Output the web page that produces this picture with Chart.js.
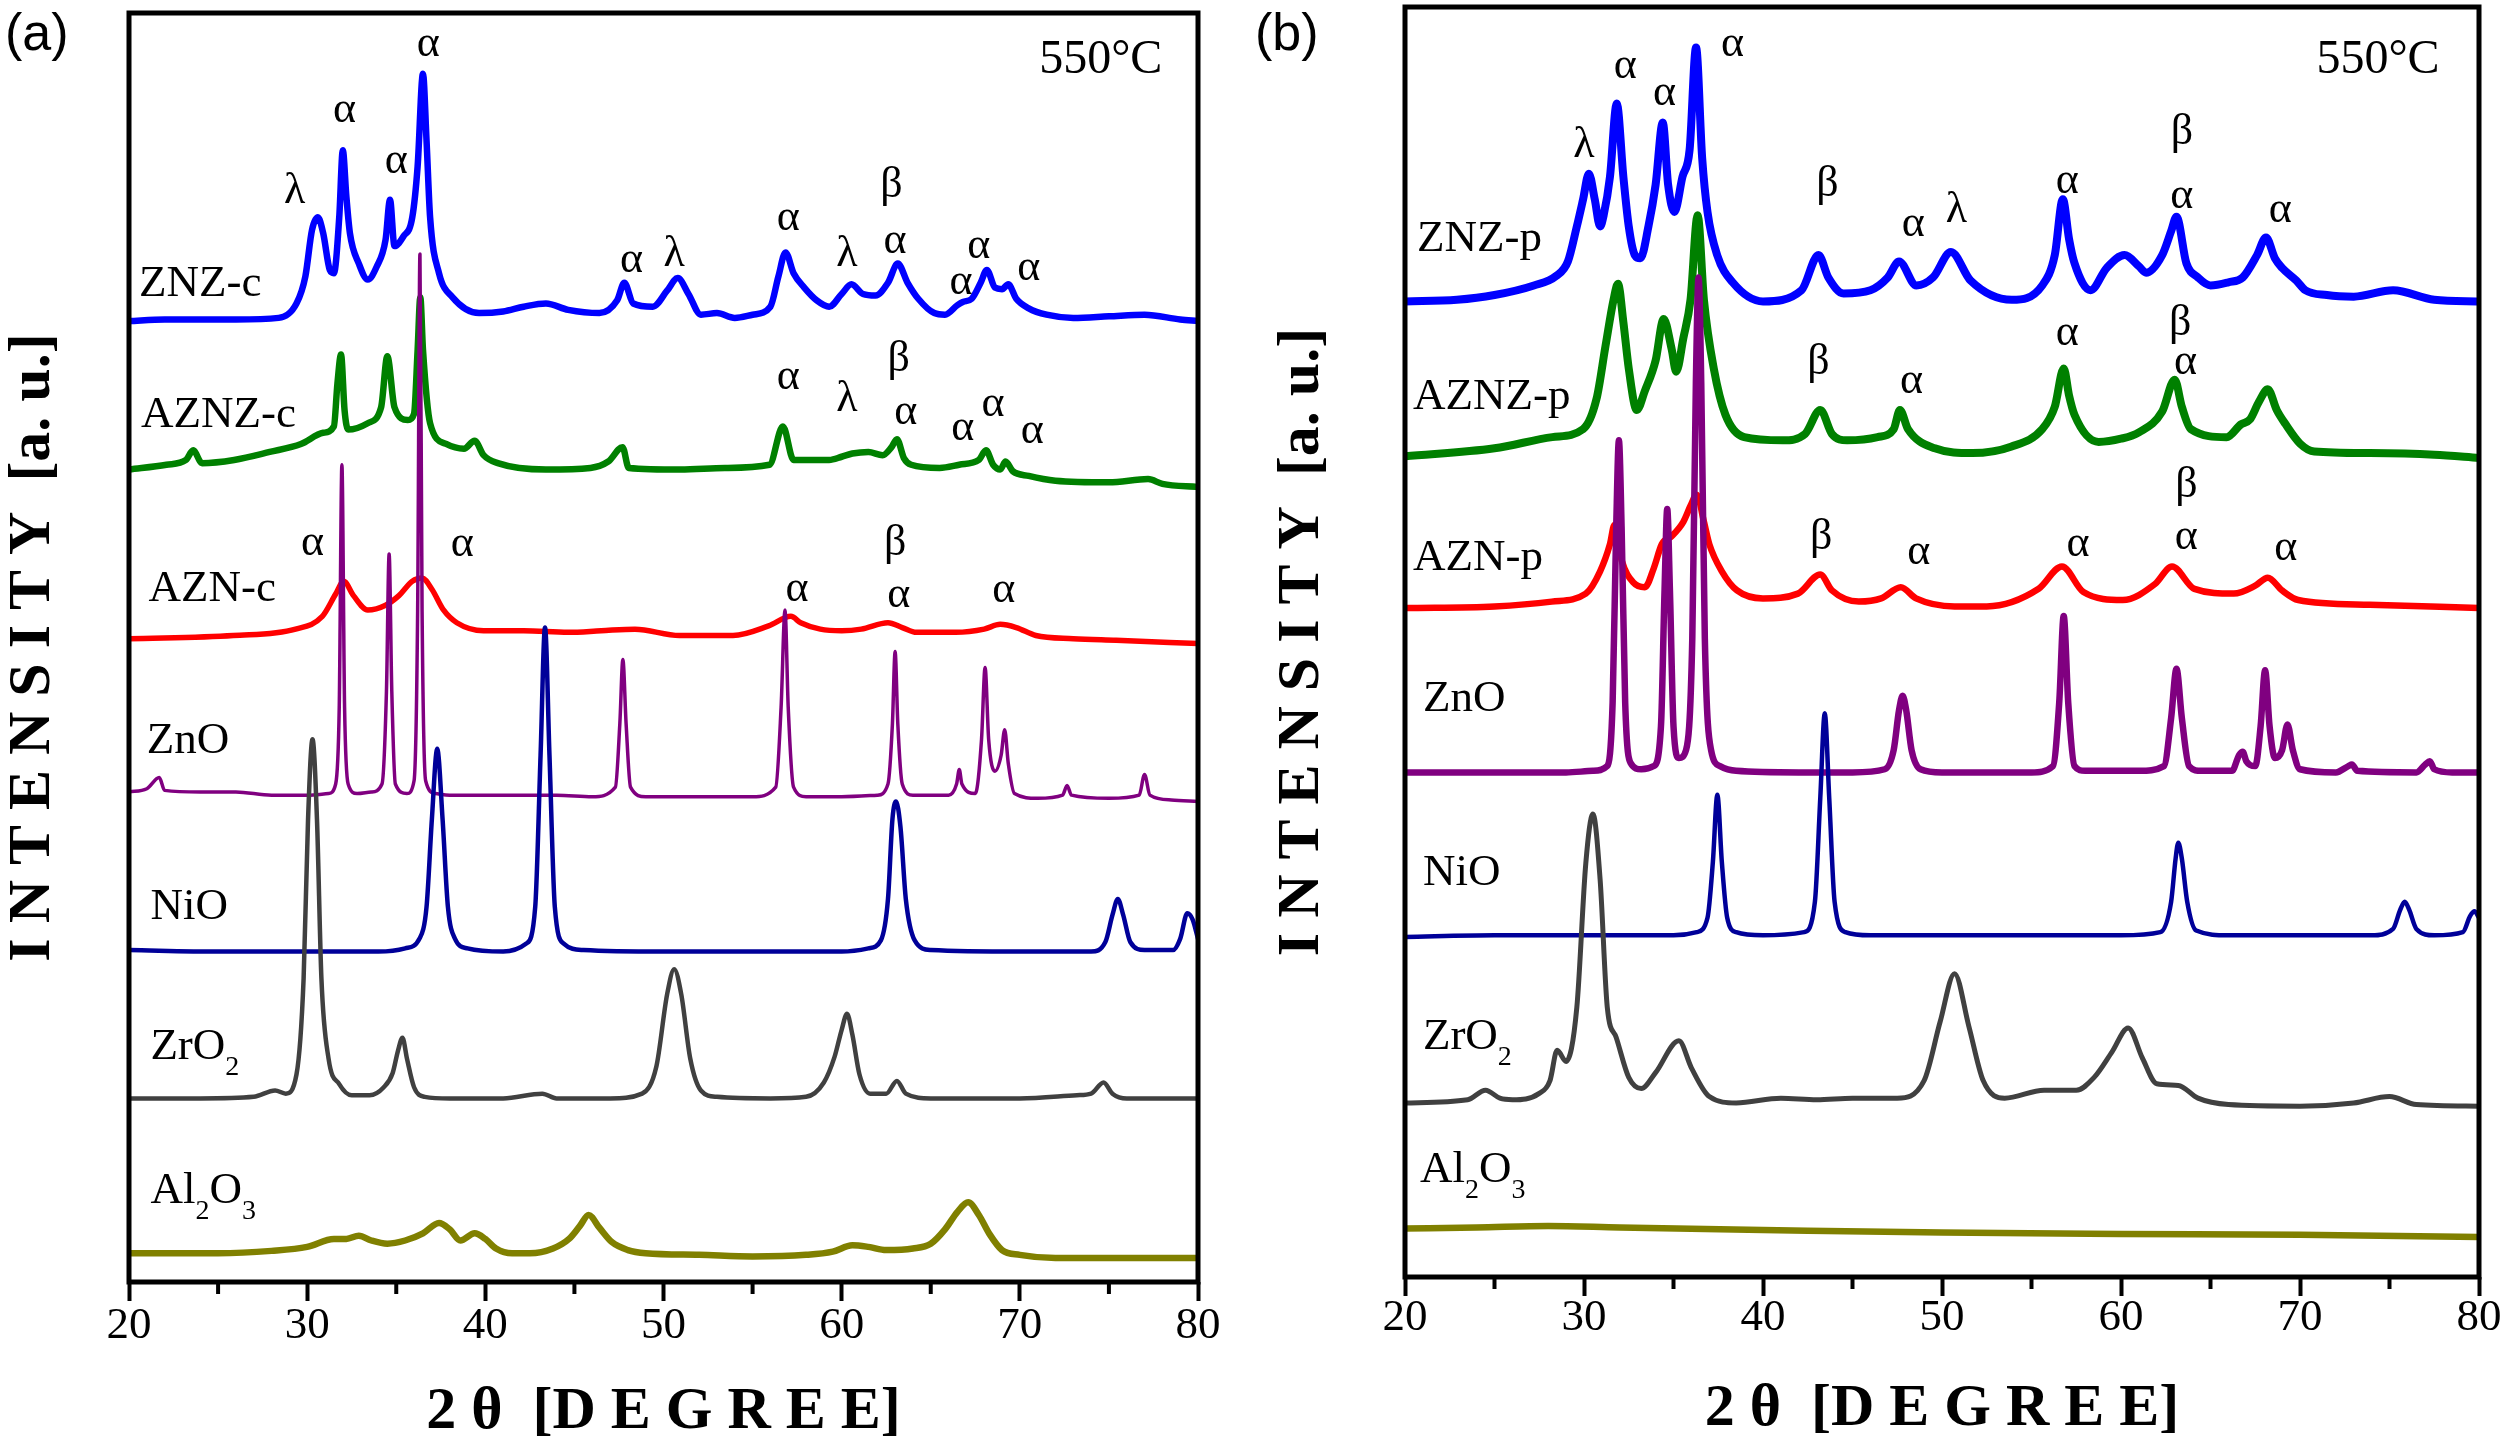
<!DOCTYPE html>
<html>
<head>
<meta charset="utf-8">
<script src="https://cdn.jsdelivr.net/npm/chart.js@4.4.1/dist/chart.umd.min.js"></script>
<style>
  html, body { margin: 0; padding: 0; background: #fff; }
  #wrap { position: relative; width: 2504px; height: 1449px; overflow: hidden; }
  canvas { position: absolute; top: 0; }
  #chartA { left: 0; }
  #chartB { left: 1250px; }
</style>
</head>
<body>
<div id="wrap">
  <canvas id="chartA" width="1250" height="1449"></canvas>
  <canvas id="chartB" width="1254" height="1449"></canvas>
</div>
<script>
// 2theta (deg) vs stacked intensity (a.u.)

// ---- panel (a) : calcined ----
const znzC = [[20,602],[22,603],[24,603],[26,603],[28.4,604],[29.4,613],[29.9,630],[30.27,659],[30.6,667],[30.9,657],[31.27,634],[31.5,632],[31.8,667],[32.0,709],[32.2,680],[32.4,657],[32.9,638],[33.4,628],[33.9,636],[34.4,653],[34.65,678],[34.9,649],[35.4,655],[35.9,667],[36.2,699],[36.5,757],[36.7,715],[36.9,667],[37.4,632],[38.15,617],[39.65,607],[41,608],[42.15,611],[43.4,613],[44.65,609],[46.4,607],[47.4,615],[47.8,626],[48.3,613],[49.4,611],[50.2,621],[50.8,629],[51.4,619],[52.1,606],[53,607],[54,604],[55,606],[56.0,611],[56.45,630],[56.85,645],[57.3,632],[57.9,623],[58.6,615],[59.3,611],[60.0,619],[60.55,625],[61.2,619],[61.9,618],[62.6,626],[63.15,638],[63.7,626],[64.3,616],[65.2,607],[65.8,606],[66.5,612],[66.8,614],[67.3,616],[67.8,626],[68.15,634],[68.6,623],[69.0,622],[69.35,625],[69.8,616],[70.5,610],[71.5,606],[73,604],[75,605],[77,606],[79,603],[80,602]];
const aznzC = [[20,509],[22.1,512],[23.2,515],[23.6,521],[24.1,513],[25.9,515],[27.9,520],[29.65,525],[30.9,532],[31.5,536],[31.7,563],[31.9,581],[32.1,546],[32.3,534],[33.4,538],[34.15,548],[34.5,580],[34.9,548],[35.65,540],[36.0,544],[36.2,584],[36.35,617],[36.5,584],[36.9,538],[37.8,525],[38.8,522],[39.4,527],[39.9,518],[40.7,513],[43.4,509],[45.9,510],[46.9,514],[47.7,523],[48.05,510],[50.95,509],[53.45,510],[55.95,512],[56.7,536],[57.3,515],[59.3,515],[60.0,517],[60.6,519],[61.5,520],[62.3,518],[62.8,523],[63.1,528],[63.5,516],[63.9,512],[65.5,510],[66.6,512],[67.7,515],[68.1,521],[68.5,512],[68.9,509],[69.2,514],[69.6,508],[70.5,505],[72,502],[75,501],[77.2,503],[78,500],[80,498]];
const aznC = [[20,403],[25.85,405],[29.35,409],[30.85,417],[31.6,431],[32.05,439],[32.6,430],[33.4,421],[34.4,424],[35.15,430],[35.9,439],[36.45,441],[37.0,434],[37.65,421],[38.4,413],[39.9,408],[42.15,408],[44.65,407],[46.5,408],[48.4,409],[50.9,405],[53.9,405],[55.9,411],[57.15,417],[57.7,413],[58.8,409],[60,408],[61.1,409],[62.6,413],[63.4,410],[64.2,407],[66.4,407],[68,409],[68.9,412],[69.8,410],[70.9,405],[73,403],[75.4,402],[80,400]];
const znoA = [[20,307],[21.0,309],[21.7,316],[22.0,308],[24,307],[26,307],[28,305],[30,305],[31.2,306],[31.6,312],[31.8,360],[31.95,512],[32.1,360],[32.3,312],[32.8,306],[33.6,307],[34.2,312],[34.45,370],[34.6,456],[34.75,370],[34.95,312],[35.6,306],[36.0,314],[36.2,420],[36.33,644],[36.45,420],[36.65,314],[37.2,306],[38,305],[40,305],[42,305],[44,305],[46,304],[47.3,310],[47.55,350],[47.72,390],[47.9,350],[48.15,310],[49,304],[52,304],[55,304],[56.3,310],[56.6,360],[56.82,421],[57.0,360],[57.3,310],[58,304],[60,304],[62,305],[62.6,312],[62.85,350],[63.0,395],[63.15,350],[63.4,312],[64,305],[66,305],[66.45,312],[66.6,321],[66.75,312],[67.5,306],[67.85,340],[68.05,385],[68.25,340],[68.6,320],[68.95,330],[69.15,346],[69.35,325],[69.7,306],[71,303],[72.4,305],[72.65,311],[72.9,305],[75,303],[76.7,305],[77.0,318],[77.3,305],[78.5,302],[80,301]];
const nioA = [[20,208],[25,207],[30,207],[34,207],[35.5,209],[36.3,215],[36.7,235],[37.0,290],[37.3,334],[37.6,290],[37.9,235],[38.3,215],[39,209],[41,207],[42.3,212],[42.8,235],[43.1,330],[43.35,410],[43.6,330],[43.9,235],[44.4,212],[45.5,208],[50,207],[55,207],[60,207],[61.5,209],[62.2,214],[62.6,240],[62.85,290],[63.05,301],[63.3,285],[63.6,240],[64.1,214],[65,208],[70,207],[74,207],[74.8,213],[75.2,230],[75.5,240],[75.8,230],[76.2,213],[77,208],[78.6,208],[79.0,215],[79.4,231],[79.7,227],[80,215]];
const zro2A = [[20,115],[24,115],[27,116],[28.2,120],[28.8,118],[29.4,130],[29.8,190],[30.05,290],[30.3,340],[30.55,290],[30.8,190],[31.2,140],[31.8,124],[32.5,117],[33.5,117],[34.3,122],[34.8,131],[35.1,145],[35.35,153],[35.6,140],[36.0,122],[36.6,116],[38,115],[41,115],[43.2,118],[44,115],[47,115],[48.8,118],[49.6,135],[50.2,180],[50.6,196],[51.0,180],[51.5,140],[52.1,120],[53,116],[56,115],[58,116],[59.0,125],[59.6,141],[60.0,158],[60.3,168],[60.6,155],[61.0,130],[61.6,118],[62.5,118],[63.1,126],[63.6,118],[65,115],[70,115],[73.2,117],[74.0,118],[74.7,125],[75.2,118],[76,115],[80,115]];
const al2o3A = [[20,18],[25,18],[28,19.5],[30,22],[31.5,27],[32.2,27],[32.9,29],[33.6,26],[34.5,24],[35.5,26],[36.5,30.5],[37.4,37],[38.0,33],[38.6,26],[39.4,30.5],[40.0,27],[40.6,21],[41.5,18],[42.5,18],[43.8,21],[44.7,27],[45.3,35],[45.8,42],[46.4,34],[47.1,25],[48.0,20],[49,18],[52,17],[55,16],[58,17],[59.5,19],[60.6,23],[61.5,22],[62.5,20],[64,21],[65,24],[65.8,33],[66.5,44],[67.1,50],[67.7,42],[68.3,30],[69,20],[70,17],[72,15],[76,15],[80,15]];

// ---- panel (b) : prepared ----
const znzP = [[20,611],[22.9,612],[25.0,615],[27.2,621],[28.45,627],[29.1,636],[29.6,658],[29.95,675],[30.27,691],[30.6,675],[30.9,658],[31.1,665],[31.45,689],[31.83,735],[32.2,689],[32.5,658],[32.84,640],[33.15,638],[33.6,658],[34.0,684],[34.4,723],[34.7,684],[35.05,667],[35.5,689],[35.9,706],[36.26,770],[36.6,701],[36.9,667],[37.44,640],[38.3,623],[40.0,611],[42.15,618],[43.1,640],[43.65,626],[44.5,616],[46.0,618],[46.97,626],[47.6,636],[48.57,621],[49.5,626],[50.5,642],[51.6,624],[53.9,612],[55.6,621],[56.3,640],[56.75,675],[57.1,650],[57.4,635],[58.3,618],[59.2,632],[60.2,640],[61.0,633],[61.4,629],[62.3,640],[62.8,655],[63.1,664],[63.65,635],[64.3,626],[65.0,621],[66.0,623],[66.8,626],[67.6,640],[68.1,651],[68.6,638],[69.0,632],[69.8,624],[70.3,618],[71.5,615],[73.0,614],[75.2,618],[77.5,612],[80,611]];
const aznzP = [[20,514],[25.0,519],[28.23,526],[29.95,531],[30.7,550],[31.2,583],[31.65,612],[31.9,622],[32.2,598],[32.5,569],[32.95,543],[33.4,555],[34.0,574],[34.45,600],[34.9,581],[35.15,567],[35.55,588],[35.95,612],[36.35,665],[36.7,612],[37.25,569],[37.9,540],[38.95,526],[41.1,524],[42.35,528],[43.2,543],[43.85,528],[44.7,524],[46.4,526],[47.3,531],[47.65,543],[48.1,531],[49.6,519],[51.7,516],[53.85,520],[55.6,531],[56.3,545],[56.8,569],[57.1,552],[57.4,540],[58.75,523],[60,525],[61.0,529],[62.3,542],[63.0,562],[63.4,545],[63.9,531],[65.9,526],[66.7,534],[67.2,537],[67.7,548],[68.2,556],[68.7,543],[69.2,534],[70.0,522],[70.8,517],[73.9,516],[77.5,515],[80,513]];
const aznP = [[20,419],[25.0,420],[28.2,423],[30.1,428],[30.9,442],[31.45,459],[31.7,471],[32.1,449],[32.75,435],[33.4,432],[33.9,444],[34.35,459],[34.9,464],[35.55,473],[35.95,483],[36.3,490],[36.7,473],[37.0,459],[37.7,442],[38.55,430],[40.0,425],[41.95,428],[43.2,440],[43.85,430],[45.35,423],[46.6,425],[47.7,432],[48.55,425],[50.7,420],[52.5,420],[55.4,431],[56.7,445],[57.9,429],[60.1,424],[61.9,434],[62.85,445],[64.1,431],[66.3,428],[67.5,433],[68.2,438],[69.0,430],[69.9,424],[73.9,421],[80,419]];
const znoB = [[20,316],[25,316],[29,316],[30.5,317],[31.3,320],[31.6,360],[31.8,470],[31.95,524],[32.1,470],[32.3,360],[32.6,322],[33.2,318],[33.9,320],[34.3,345],[34.5,430],[34.65,481],[34.8,430],[35.0,345],[35.3,325],[35.7,330],[36.05,400],[36.25,560],[36.4,626],[36.55,560],[36.75,400],[37.1,330],[37.6,320],[38.5,317],[42,316],[45,316],[46.8,318],[47.3,330],[47.6,355],[47.8,364],[48.0,355],[48.3,330],[48.8,318],[50,316],[55,316],[56.2,320],[56.55,360],[56.8,414],[57.05,360],[57.4,320],[58,317],[61,317],[62.4,320],[62.8,350],[63.1,381],[63.4,350],[63.8,320],[64.5,317],[66.2,317],[66.6,327],[66.8,329],[67.0,323],[67.5,320],[67.8,345],[68.05,380],[68.3,345],[68.6,325],[69.0,330],[69.3,346],[69.6,330],[70.0,318],[72,316],[72.7,320],[72.9,321],[73.2,317],[76.5,316],[77.0,321],[77.25,323],[77.5,318],[78.5,316],[80,316]];
const nioB = [[20,213],[25,214],[30,214],[35,214],[36.3,216],[36.9,225],[37.2,260],[37.45,302],[37.7,260],[38.0,225],[38.5,216],[40,214],[42.3,216],[42.9,235],[43.2,300],[43.45,353],[43.7,300],[44.0,235],[44.6,216],[46,214],[50,214],[55,214],[60,214],[62.2,216],[62.8,235],[63.05,262],[63.2,272],[63.4,262],[63.7,235],[64.2,217],[66,214],[70,214],[74,214],[75.2,218],[75.6,230],[75.85,235],[76.1,230],[76.5,218],[77.5,214],[79.1,216],[79.5,226],[79.75,229],[80,225]];
const zro2B = [[20,109],[23.5,111],[24.5,117],[25.3,112],[26,111],[27.5,115],[28.1,123],[28.5,142],[29.0,135],[29.6,169],[30.1,259],[30.5,290],[30.9,249],[31.3,169],[31.8,150],[32.5,125],[33.2,118],[34.0,128],[35.3,148],[36.0,131],[37.0,113],[38.5,109],[41,112],[43,111],[45,112],[47.5,112],[49.0,123],[49.9,160],[50.7,190],[51.5,157],[52.3,123],[53.5,112],[55.7,117],[57.5,117],[58.5,125],[59.5,141],[60.4,156],[61.2,137],[62.0,121],[63.2,120],[64.3,112],[66,108],[70,107],[73,109],[75,113],[76.5,108],[80,107]];
const al2o3B = [[20,30.4],[24,31],[28,32],[32,31],[40,29.5],[50,27.8],[60,27],[70,26.5],[80,25]];

// sample names, top to bottom ('_' = subscript)
const namesA = ['ZNZ-c', 'AZNZ-c', 'AZN-c', 'ZnO', 'NiO', 'ZrO_2', 'Al_2O_3'];
const namesB = ['ZNZ-p', 'AZNZ-p', 'AZN-p', 'ZnO', 'NiO', 'ZrO_2', 'Al_2O_3'];
const nameAtA = [[20.56,625],[20.67,543],[21.1,434],[21.0,339],[21.2,235],[21.2,147],[21.2,57]];
const nameAtB = [[20.67,650],[20.45,551],[20.45,450],[21.0,362],[21.0,253],[21.0,150],[20.84,67]];

// phase marks [2theta, intensity, symbol]
const marksA = [
  [29.3,683,'λ'],[32.1,734,'α'],[35.0,702,'α'],[36.8,775,'α'],[48.2,640,'α'],[50.6,644,'λ'],[57.0,666,'α'],
  [60.3,644,'λ'],[62.8,687,'β'],[63.0,652,'α'],[66.7,626,'α'],[67.7,649,'α'],[70.5,635,'α'],
  [57.0,567,'α'],[60.3,553,'λ'],[63.2,578,'β'],[63.6,545,'α'],[66.8,535,'α'],[68.5,550,'α'],[70.7,533,'α'],
  [30.3,463,'α'],[38.7,462,'α'],[57.5,434,'α'],[63.0,463,'β'],[63.2,430,'α'],[69.1,433,'α']
];
const marksB = [
  [30.0,709,'λ'],[32.3,758,'α'],[34.5,741,'α'],[38.3,772,'α'],[43.6,684,'β'],[48.4,659,'α'],[50.8,668,'λ'],
  [57.0,686,'α'],[63.4,717,'β'],[63.4,677,'α'],[68.9,668,'α'],
  [43.1,573,'β'],[48.3,561,'α'],[57.0,591,'α'],[63.3,597,'β'],[63.6,573,'α'],
  [43.25,463,'β'],[48.7,454,'α'],[57.6,459,'α'],[63.65,496,'β'],[63.65,463,'α'],[69.2,456,'α']
];

const minorTicks = [25, 35, 45, 55, 65, 75];
const colors = ['#0000ff', '#008000', '#ff0000', '#800080', '#000099', '#404040', '#808000'];

const serif = '"Liberation Serif", "Times New Roman", serif';
const xTitle = '2 θ  [D E G R E E]';
const yTitle = 'I N T E N S I T Y  [a. u.]';

function drawRich(ctx, text, x, y, size) {
  let cx = x;
  for (let i = 0; i < text.length; i++) {
    let ch = text[i], sub = false;
    if (ch === '_') { ch = text[++i]; sub = true; }
    ctx.font = (sub ? Math.round(size * 0.62) : size) + 'px ' + serif;
    ctx.fillText(ch, cx, sub ? y + size * 0.45 : y);
    cx += ctx.measureText(ch).width;
  }
}

function panelPlugin(p) {
  return {
    id: 'panelDecor',
    afterDatasetsDraw(chart) {
      const { ctx, chartArea: a, scales: { x, y } } = chart;
      ctx.save();
      ctx.fillStyle = '#000';
      ctx.strokeStyle = '#000';
      ctx.textBaseline = 'middle';

      ctx.textAlign = 'left';
      p.names.forEach((n, i) => drawRich(ctx, n, x.getPixelForValue(p.nameAt[i][0]), y.getPixelForValue(p.nameAt[i][1]), 45));

      ctx.textAlign = 'center';
      ctx.font = '44px ' + serif;
      p.marks.forEach(m => ctx.fillText(m[2], x.getPixelForValue(m[0]), y.getPixelForValue(m[1])));

      ctx.textAlign = 'right';
      ctx.font = '48px ' + serif;
      ctx.fillText('550°C', x.getPixelForValue(p.temp[0]), y.getPixelForValue(p.temp[1]));

      // frame
      ctx.lineWidth = 5;
      ctx.strokeRect(a.left, a.top, a.right - a.left, a.bottom - a.top);

      // minor ticks
      ctx.lineWidth = 4;
      minorTicks.forEach(v => {
        const px = x.getPixelForValue(v);
        ctx.beginPath();
        ctx.moveTo(px, a.bottom);
        ctx.lineTo(px, a.bottom + 12);
        ctx.stroke();
      });

      ctx.textAlign = 'left';
      ctx.font = '52px "Liberation Sans", Arial, sans-serif';
      ctx.fillText(p.tag, 5, 36);
      ctx.restore();
    }
  };
}

function ds(data, color, width) {
  return {
    data: data.map(([x, y]) => ({ x, y })),
    borderColor: color,
    borderWidth: width,
    pointRadius: 0,
    fill: false,
    cubicInterpolationMode: 'monotone',
    borderJoinStyle: 'round',
    borderCapStyle: 'round'
  };
}

function makePanel(id, traces, widths, cfg) {
  // first dataset is drawn on top, so pass the lowest trace first
  const datasets = traces.map((t, i) => ds(t, colors[6 - i], widths[i]));
  return new Chart(document.getElementById(id), {
    type: 'line',
    data: { datasets },
    options: {
      responsive: false,
      animation: false,
      devicePixelRatio: 1,
      layout: { padding: { top: cfg.top, right: cfg.right, left: 0, bottom: 0 } },
      plugins: { legend: { display: false }, tooltip: { enabled: false } },
      scales: {
        x: {
          type: 'linear', min: 20, max: 80,
          ticks: { stepSize: 10, autoSkip: false, maxRotation: 0, color: '#000', padding: cfg.tickPad,
                   font: { family: serif, size: 45, lineHeight: 1 } },
          grid: { drawOnChartArea: false, tickLength: 19, tickWidth: 4, tickColor: '#000' },
          border: { display: false },
          title: { display: true, text: xTitle, color: '#000',
                   font: { family: serif, size: 60, weight: 'bold' }, padding: { top: 0, bottom: cfg.xTitlePad } },
          afterFit: s => { s.height = cfg.xAxisH; }
        },
        y: {
          min: 0, max: cfg.yMax,
          ticks: { display: false },
          grid: { display: false },
          border: { display: false },
          title: { display: true, text: yTitle, color: '#000',
                   font: { family: serif, size: 60, weight: 'bold', lineHeight: 1 }, padding: { top: cfg.yTitlePad, bottom: 0 } },
          afterFit: s => { s.width = cfg.yAxisW; }
        }
      }
    },
    plugins: [panelPlugin(cfg)]
  });
}

makePanel('chartA',
  [al2o3A, zro2A, nioA, znoA, aznC, aznzC, znzC],
  [6.5, 4.5, 4.5, 3.5, 5.5, 6.5, 6.5],
  { tag: '(a)', names: namesA, nameAt: nameAtA, marks: marksA, temp: [78.0, 765],
    top: 13, right: 52, yAxisW: 129, xAxisH: 167, yMax: 795, tickPad: 3, xTitlePad: 1, yTitlePad: 3 });

makePanel('chartB',
  [al2o3B, zro2B, nioB, znoB, aznP, aznzP, znzP],
  [6.5, 5, 4.5, 6.5, 6.5, 8, 8],
  { tag: '(b)', names: namesB, nameAt: nameAtB, marks: marksB, temp: [77.8, 762],
    top: 7, right: 25, yAxisW: 155, xAxisH: 172, yMax: 795.4, tickPad: 0, xTitlePad: 4, yTitlePad: 22 });
</script>
</body>
</html>
